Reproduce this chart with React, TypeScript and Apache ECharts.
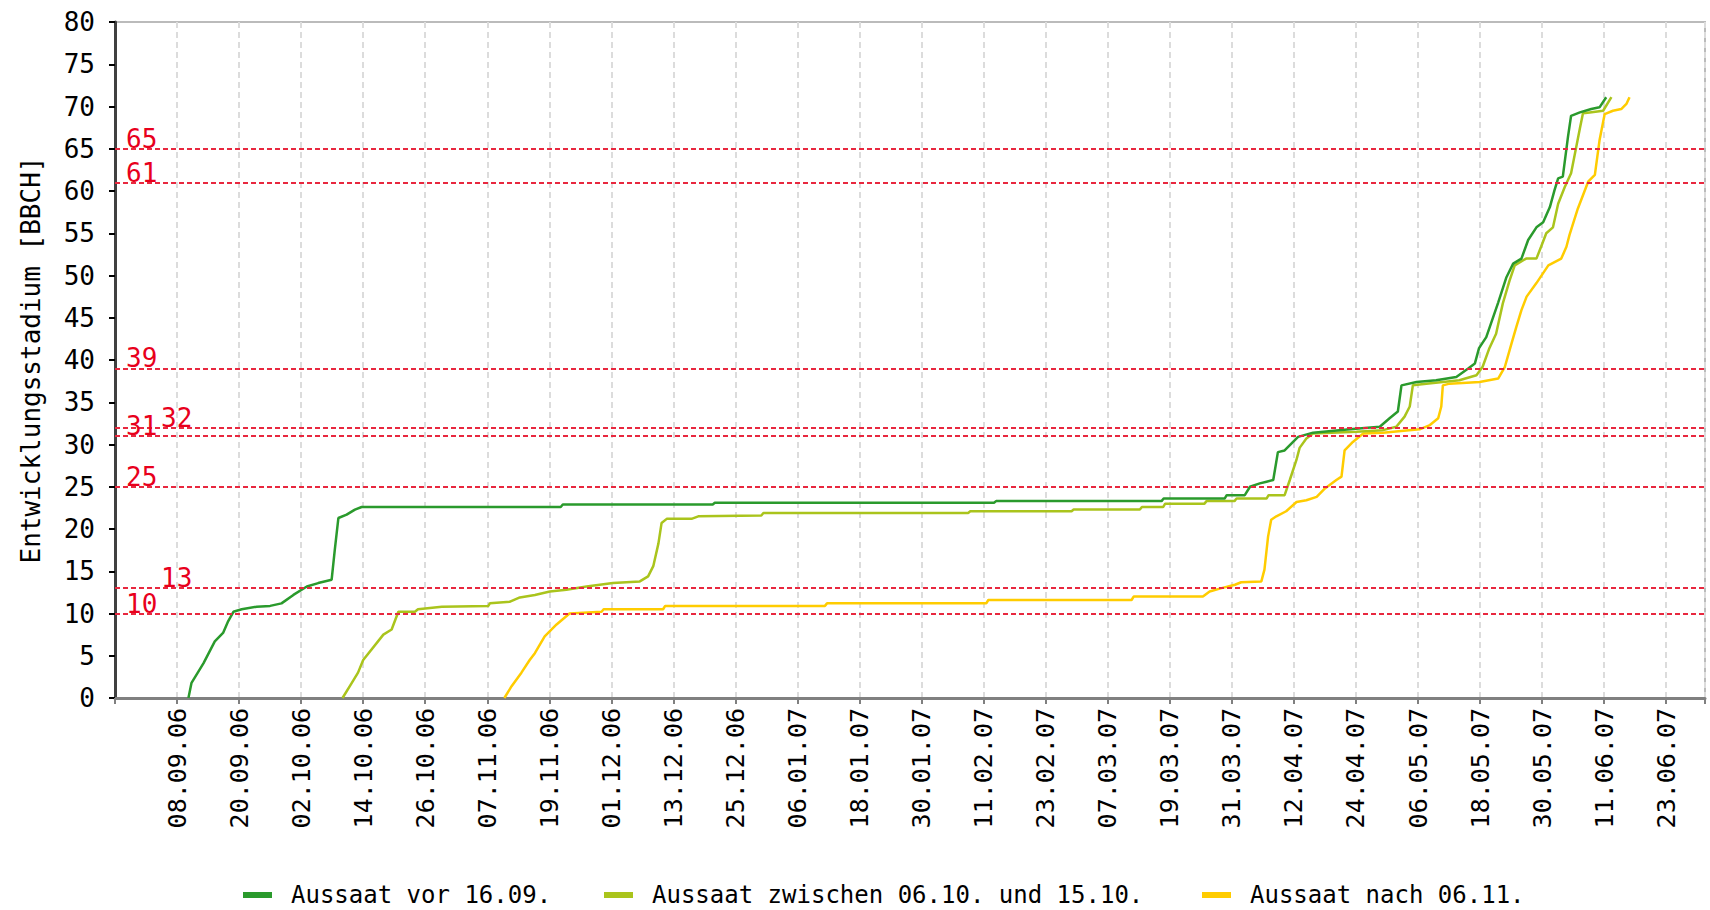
import React, { useEffect, useRef } from 'react';
import * as echarts from 'echarts';

// Day numbers are counted from 27.08.2006 (day 0); ticks every 12 days.
const tickLabels = [
  '08.09.06', '20.09.06', '02.10.06', '14.10.06', '26.10.06', '07.11.06', '19.11.06',
  '01.12.06', '13.12.06', '25.12.06', '06.01.07', '18.01.07', '30.01.07', '11.02.07',
  '23.02.07', '07.03.07', '19.03.07', '31.03.07', '12.04.07', '24.04.07', '06.05.07',
  '18.05.07', '30.05.07', '11.06.07', '23.06.07',
];

const seriesNames = ['Aussaat vor 16.09.', 'Aussaat zwischen 06.10. und 15.10.', 'Aussaat nach 06.11.'];
const seriesColors = ['#2a9a2c', '#aac41c', '#ffcc00'];

const greenDays = [14.2, 14.8, 17.1, 19.3, 20.9, 21.9, 22.9, 24.5, 27.4, 30.0, 32.2, 34.5, 37.1, 39.3, 41.9, 42.5, 43.2, 44.8, 46.4, 47.7, 86.2, 86.6, 115.6, 116.0, 170.0, 170.4, 202.4, 202.8, 214.6, 215.0, 218.5, 219.5, 221.4, 222.7, 224.0, 224.9, 226.2, 228.8, 231.7, 238.8, 244.6, 246.5, 248.1, 248.8, 251.7, 255.5, 259.4, 261.7, 263.0, 263.8, 265.2, 267.5, 269.1, 270.4, 272.0, 273.3, 274.9, 276.2, 277.5, 278.4, 279.1, 280.0, 281.0, 281.6, 283.3, 285.5, 287.1, 288.4];
const greenStage = [0, 1.8, 4.1, 6.7, 7.7, 9.1, 10.2, 10.5, 10.8, 10.9, 11.2, 12.2, 13.2, 13.6, 14.0, 17.5, 21.3, 21.7, 22.3, 22.6, 22.6, 22.9, 22.9, 23.1, 23.1, 23.3, 23.3, 23.6, 23.6, 24.0, 24.0, 25.0, 25.4, 25.6, 25.8, 29.1, 29.3, 30.9, 31.4, 31.8, 32.1, 33.1, 33.9, 37.0, 37.4, 37.6, 38.0, 39.0, 39.6, 41.4, 42.7, 46.8, 49.8, 51.4, 52.0, 54.2, 55.7, 56.3, 58.1, 60.1, 61.5, 61.7, 66.4, 68.9, 69.3, 69.7, 69.9, 71.1];

const limeDays = [44.0, 45.8, 47.0, 48.0, 51.9, 53.5, 54.8, 58.0, 58.6, 63.2, 72.2, 72.5, 76.4, 78.3, 81.2, 84.1, 87.3, 91.2, 96.3, 101.5, 103.1, 104.1, 105.1, 105.7, 106.7, 111.5, 112.8, 125.0, 125.4, 165.0, 165.4, 185.0, 185.4, 198.2, 198.6, 202.7, 203.1, 210.7, 211.1, 216.5, 216.9, 222.7, 223.1, 226.2, 227.2, 228.5, 229.1, 230.4, 231.7, 240.1, 245.2, 247.8, 249.4, 250.4, 251.0, 253.6, 260.0, 263.3, 264.5, 265.8, 267.1, 268.4, 269.7, 270.7, 272.9, 274.9, 275.8, 276.8, 278.1, 279.1, 280.4, 281.6, 283.3, 283.9, 285.2, 287.8, 289.4];
const limeStage = [0, 1.8, 3.0, 4.5, 7.5, 8.1, 10.2, 10.2, 10.5, 10.8, 10.9, 11.2, 11.4, 11.9, 12.2, 12.6, 12.8, 13.2, 13.6, 13.8, 14.4, 15.6, 18.3, 20.7, 21.2, 21.2, 21.5, 21.6, 21.9, 21.9, 22.1, 22.1, 22.3, 22.3, 22.6, 22.6, 23.0, 23.0, 23.3, 23.3, 23.6, 23.6, 24.0, 24.0, 25.8, 28.2, 29.6, 30.7, 31.3, 31.5, 31.7, 32.1, 33.3, 34.5, 37.0, 37.2, 37.6, 38.2, 39.2, 41.4, 43.1, 46.7, 49.4, 51.2, 52.0, 52.0, 53.4, 55.0, 55.7, 58.5, 60.5, 62.1, 67.4, 69.2, 69.3, 69.5, 71.1];

const yellowDays = [75.3, 76.7, 78.6, 80.2, 81.2, 83.1, 85.4, 87.9, 94.1, 94.5, 106.0, 106.4, 137.3, 137.7, 168.5, 168.9, 196.6, 197.0, 210.4, 211.7, 214.0, 216.6, 217.8, 221.7, 222.3, 223.0, 223.6, 224.6, 226.5, 228.5, 230.4, 232.4, 234.0, 236.2, 237.2, 237.8, 239.4, 241.4, 245.2, 252.3, 254.3, 255.9, 256.5, 256.8, 258.1, 263.9, 267.5, 268.8, 270.1, 271.0, 272.0, 273.0, 274.9, 277.2, 279.7, 280.7, 281.3, 282.9, 284.9, 286.2, 287.1, 288.1, 289.7, 291.3, 292.3, 292.9];
const yellowStage = [0, 1.4, 3.0, 4.5, 5.3, 7.3, 8.7, 10.0, 10.2, 10.5, 10.5, 10.9, 10.9, 11.2, 11.2, 11.6, 11.6, 12.0, 12.0, 12.6, 13.0, 13.4, 13.7, 13.8, 15.2, 19.1, 21.1, 21.5, 22.1, 23.2, 23.4, 23.8, 24.8, 25.8, 26.2, 29.3, 30.3, 31.3, 31.4, 31.8, 32.3, 33.1, 34.5, 37.0, 37.2, 37.4, 37.8, 39.2, 42.0, 43.9, 45.9, 47.5, 49.1, 51.2, 52.0, 53.4, 54.8, 57.9, 61.1, 61.9, 66.0, 69.1, 69.5, 69.7, 70.3, 71.1];

const thresholdStages = [65, 61, 39, 32, 31, 25, 13, 10];
const shiftedStages = [32, 13];

const legendLefts = [243, 604, 1202];

const FONT = 'DejaVu Sans Mono';

function pairs(days: number[], vals: number[]) {
  return days.map((d, i) => [d, vals[i]]);
}

export default function App() {
  const ref = useRef<HTMLDivElement>(null);
  useEffect(() => {
    if (!ref.current) return;
    const chart = echarts.init(ref.current, undefined, { renderer: 'svg' });
    const data = [pairs(greenDays, greenStage), pairs(limeDays, limeStage), pairs(yellowDays, yellowStage)];
    chart.setOption({
      animation: false,
      backgroundColor: '#ffffff',
      textStyle: { fontFamily: FONT },
      grid: {
        left: 115, right: 5, top: 22, bottom: 212,
        show: true, borderColor: '#bbbbbb', borderWidth: 2, backgroundColor: 'transparent',
      },
      legend: seriesNames.map((n, i) => ({
        data: [n],
        left: legendLefts[i],
        top: 883,
        icon: 'rect',
        itemWidth: 29,
        itemHeight: 6,
        padding: 0,
        selectedMode: false,
        textStyle: { fontFamily: FONT, fontSize: 24, color: '#000', padding: [0, 0, 0, 14] },
      })),
      xAxis: {
        type: 'value', min: 0, max: 307.5, interval: 12,
        axisLine: { show: true, onZero: false, lineStyle: { color: '#808080', width: 3 } },
        axisTick: { show: true, length: 6, lineStyle: { color: '#808080', width: 2 } },
        axisLabel: {
          rotate: 90, margin: 10, fontSize: 25, color: '#000', fontFamily: FONT,
          formatter: (v: number) => {
            const idx = v / 12 - 1;
            return Number.isInteger(idx) && idx >= 0 && idx < tickLabels.length ? tickLabels[idx] : '';
          },
        },
        splitLine: { show: true, lineStyle: { color: '#dcdcdc', width: 2, type: [6, 4] } },
      },
      yAxis: {
        type: 'value', min: 0, max: 80, interval: 5,
        name: 'Entwicklungsstadium [BBCH]', nameLocation: 'middle', nameGap: 71,
        nameTextStyle: { fontSize: 26, color: '#000', fontFamily: FONT },
        axisLine: { show: true, lineStyle: { color: '#404040', width: 3 } },
        axisTick: { show: true, length: 6, lineStyle: { color: '#000', width: 2 } },
        axisLabel: { fontSize: 26, color: '#000', margin: 20, fontFamily: FONT },
        splitLine: { show: false },
      },
      series: seriesNames.map((n, i) => ({
        name: n,
        type: 'line',
        data: data[i],
        showSymbol: false,
        symbol: 'none',
        color: seriesColors[i],
        lineStyle: { color: seriesColors[i], width: 2.5 },
        z: 3 - i,
        markLine: i === 0 ? {
          silent: true,
          symbol: 'none',
          z: 5,
          lineStyle: { color: '#e8283f', width: 2, type: [5, 3] },
          label: {
            show: true, position: 'insideStartTop', color: '#e8001c', fontSize: 26, fontFamily: FONT,
            formatter: (p: any) => String(p.value),
          },
          data: thresholdStages.map((s) => ({
            yAxis: s,
            label: { distance: shiftedStages.includes(s) ? [46, -3] : [11, -3] },
          })),
        } : undefined,
      })),
    });
    return () => chart.dispose();
  }, []);
  return <div ref={ref} style={{ position: 'absolute', left: 0, top: 0, width: 1710, height: 910 }} />;
}
